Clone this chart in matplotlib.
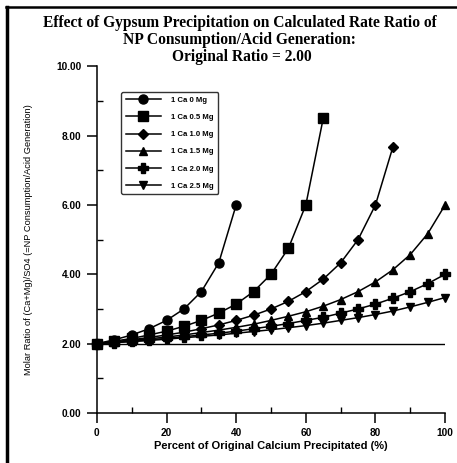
import matplotlib
matplotlib.use("Agg")
import matplotlib.pyplot as plt
from matplotlib.ticker import MultipleLocator, FormatStrFormatter
from matplotlib.lines import Line2D

pct_0 = [0, 5, 10, 15, 20, 25, 30, 35, 40]
ratio_0 = [2.00, 2.11, 2.25, 2.43, 2.67, 3.00, 3.50, 4.33, 6.00]

pct_05 = [0, 5, 10, 15, 20, 25, 30, 35, 40, 45, 50, 55, 60, 65]
ratio_05 = [2.00, 2.07, 2.15, 2.25, 2.36, 2.50, 2.67, 2.88, 3.14, 3.50, 4.00, 4.75, 6.00, 8.50]

pct_10 = [0, 5, 10, 15, 20, 25, 30, 35, 40, 45, 50, 55, 60, 65, 70, 75, 80, 85]
ratio_10 = [2.00, 2.05, 2.11, 2.18, 2.25, 2.33, 2.43, 2.54, 2.67, 2.82, 3.00, 3.22, 3.50, 3.86, 4.33, 5.00, 6.00, 7.67]

pct_full = [0, 5, 10, 15, 20, 25, 30, 35, 40, 45, 50, 55, 60, 65, 70, 75, 80, 85, 90, 95, 100]
ratio_15 = [2.00, 2.04, 2.09, 2.14, 2.19, 2.25, 2.32, 2.39, 2.47, 2.56, 2.67, 2.79, 2.92, 3.08, 3.27, 3.50, 3.78, 4.13, 4.57, 5.17, 6.00]
ratio_20 = [2.00, 2.03, 2.07, 2.11, 2.15, 2.20, 2.25, 2.30, 2.36, 2.43, 2.50, 2.58, 2.67, 2.76, 2.88, 3.00, 3.14, 3.31, 3.50, 3.73, 4.00]
ratio_25 = [2.00, 2.03, 2.06, 2.09, 2.13, 2.17, 2.21, 2.25, 2.30, 2.35, 2.40, 2.46, 2.52, 2.59, 2.67, 2.75, 2.84, 2.94, 3.06, 3.19, 3.33]

labels = ["1 Ca 0 Mg", "1 Ca 0.5 Mg", "1 Ca 1.0 Mg", "1 Ca 1.5 Mg", "1 Ca 2.0 Mg", "1 Ca 2.5 Mg"]
markers = ["o", "s", "D", "^", "P", "v"]
msizes = [6.5, 6.5, 5.0, 6.0, 7.0, 6.0]

baseline_x = [0, 100]
baseline_y = [2.0, 2.0]

series = [(pct_0, ratio_0), (pct_05, ratio_05), (pct_10, ratio_10),
          (pct_full, ratio_15), (pct_full, ratio_20), (pct_full, ratio_25)]

fig = plt.figure(figsize=(4.57, 4.63), dpi=100)
ax = fig.add_axes([0.212, 0.108, 0.762, 0.749])

ax.plot(baseline_x, baseline_y, color="black", lw=1.0, zorder=1)
for (xs, ys), m, ms in zip(series, markers, msizes):
    ax.plot(xs, ys, color="black", lw=1.1, marker=m, markersize=ms,
            markerfacecolor="black", markeredgecolor="black", zorder=3, clip_on=False)

ax.set_xlim(0, 100)
ax.set_ylim(0, 10)
ax.xaxis.set_major_locator(MultipleLocator(20))
ax.xaxis.set_minor_locator(MultipleLocator(10))
ax.yaxis.set_major_locator(MultipleLocator(2))
ax.yaxis.set_minor_locator(MultipleLocator(1))
ax.yaxis.set_major_formatter(FormatStrFormatter("%.2f"))
for s in ["top", "right"]:
    ax.spines[s].set_visible(False)
for s in ["left", "bottom"]:
    ax.spines[s].set_linewidth(1.1)
ax.tick_params(which="major", direction="out", length=7, width=1.1, labelsize=7.3, pad=4)
ax.tick_params(which="minor", direction="in", length=4, width=1.0)
for lab in ax.get_xticklabels() + ax.get_yticklabels():
    lab.set_fontfamily("Liberation Sans")
    lab.set_fontweight("bold")

ax.set_xlabel("Percent of Original Calcium Precipitated (%)", fontsize=8,
              fontfamily="Liberation Sans", fontweight="bold", labelpad=2)
ax.set_ylabel("Molar Ratio of (Ca+Mg)/SO4 (=NP Consumption/Acid Generation)", fontsize=6.7,
              fontfamily="Liberation Sans", labelpad=17)

title_kw = dict(ha="center", va="center", fontsize=11.2,
                fontfamily="Liberation Serif", fontweight="bold")
fig.text(0.525, 0.951, "Effect of Gypsum Precipitation on Calculated Rate Ratio of", **title_kw)
fig.text(0.525, 0.913, "NP Consumption/Acid Generation:", **title_kw)
fig.text(0.53, 0.876, "Original Ratio = 2.00", **title_kw)

handles = [Line2D([0], [0], color="black", lw=1.1, marker=m, markersize=ms,
                  markerfacecolor="black") for m, ms in zip(markers, msizes)]
leg = ax.legend(handles, labels, loc="upper left", bbox_to_anchor=(0.07, 0.925),
                prop={"family": "Liberation Sans", "size": 5.6, "weight": "bold"},
                handlelength=4.6, labelspacing=1.25, handletextpad=1.3,
                frameon=True, fancybox=True, borderpad=0.55, borderaxespad=0.0)
leg.get_frame().set_edgecolor("black")
leg.get_frame().set_linewidth(1.0)

fig.add_artist(Line2D([0.016, 0.016], [0.005, 0.985], transform=fig.transFigure,
                      color="black", lw=2.5))
fig.add_artist(Line2D([0.014, 1.0], [0.985, 0.985], transform=fig.transFigure,
                      color="black", lw=1.8))

fig.savefig("out.png", dpi=100)
